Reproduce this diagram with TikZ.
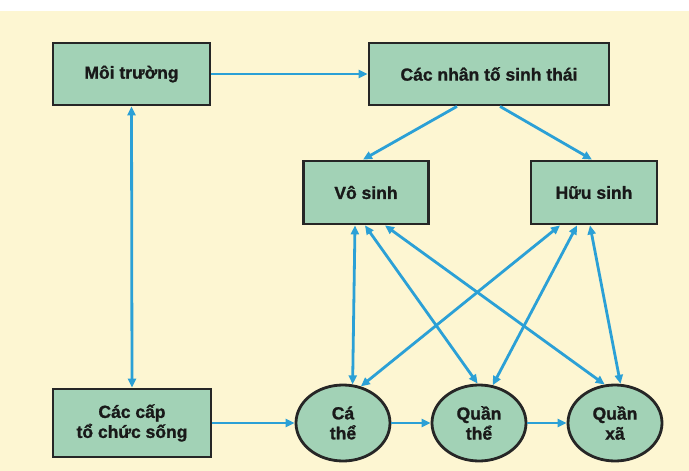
\documentclass[tikz,border=0pt]{standalone}
\usepackage{fontspec}
\setmainfont{Liberation Sans}[BoldFeatures={FakeBold=1.2}]
\usetikzlibrary{arrows.meta,shapes.geometric}
\definecolor{cream}{HTML}{FDF6D2}
\definecolor{boxfill}{HTML}{A2D2B6}
\definecolor{boxline}{HTML}{262626}
\definecolor{arrowblue}{HTML}{2BA0D6}
\begin{document}
\begin{tikzpicture}[x=1pt,y=-1pt,
  every node/.style={font=\fontsize{17.5}{20}\selectfont\bfseries, text=black!90, align=center},
  rbox/.style={draw=boxline, line width=2.8pt, fill=boxfill, rectangle, inner sep=0pt},
  lvl/.style={draw=boxline, line width=2.8pt, fill=boxfill, ellipse, inner sep=0pt, minimum width=94pt, minimum height=76pt},
  conn/.style={draw=arrowblue, line width=2.8pt, -{Triangle[length=9pt,width=8pt]}},
  dconn/.style={draw=arrowblue, line width=2.8pt, {Triangle[length=9pt,width=8pt]}-{Triangle[length=9pt,width=8pt]}}
]
\useasboundingbox (0,0) rectangle (689,471);
\fill[white] (0,0) rectangle (689,471);
\fill[cream] (0,11) rectangle (689,471);

\node[rbox, minimum width=157pt, minimum height=62pt] (moi) at (131.5,74) {Môi trường};
\node[rbox, minimum width=240pt, minimum height=62pt] (nhan) at (489,74) {Các nhân tố sinh thái};
\node[rbox, minimum width=125pt, minimum height=63pt] (vo) at (366,192.5) {Vô sinh};
\node[rbox, minimum width=126pt, minimum height=63pt] (huu) at (594,192.5) {Hữu sinh};
\node[rbox, minimum width=158pt, minimum height=68pt] (cap) at (132,423) {Các cấp\\tổ chức sống};
\node[lvl] (ca) at (343,423) {Cá\\thể};
\node[lvl] (qt) at (479,423) {Quần\\thể};
\node[lvl] (qx) at (615,423) {Quần\\xã};

\draw[conn] (moi.east) -- (nhan.west);
\draw[dconn] (moi.south) -- (cap.north);
\draw[conn] ([xshift=-32pt]nhan.south) -- ([xshift=-3pt]vo.north);
\draw[conn] ([xshift=11pt]nhan.south) -- ([xshift=-2pt]huu.north);
\draw[conn] (cap.east) -- (ca.west);
\draw[conn] (ca.east) -- (qt.west);
\draw[conn] (qt.east) -- (qx.west);

\draw[dconn] ([xshift=-11pt]vo.south) -- (ca.76);
\draw[dconn] ([xshift=-1pt]vo.south) -- (qt.92);
\draw[dconn] ([xshift=19pt]vo.south) -- (qx.105);
\draw[dconn] ([xshift=-34pt]huu.south) -- (ca.64);
\draw[dconn] ([xshift=-17pt]huu.south) -- (qt.70);
\draw[dconn] ([xshift=-4pt]huu.south) -- (qx.82);
\end{tikzpicture}
\end{document}
